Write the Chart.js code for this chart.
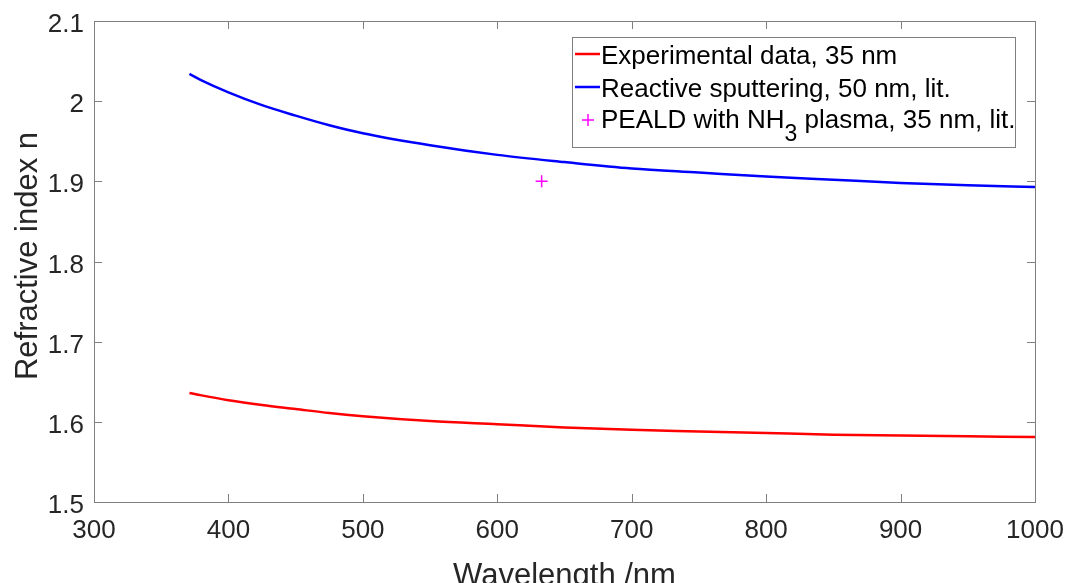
<!DOCTYPE html>
<html>
<head>
<meta charset="utf-8">
<script src="https://cdn.jsdelivr.net/npm/chart.js@4.4.1/dist/chart.umd.min.js"></script>
<style>
  html, body { margin: 0; padding: 0; background: #fff; }
  #wrap { width: 1076px; height: 583px; }
</style>
</head>
<body>
<div id="wrap"><canvas id="chart" width="1076" height="583"></canvas></div>
<script>
// values
const wavelengths = [371, 380, 400, 425, 450, 475, 500, 550, 600, 650, 700, 750, 800, 850, 900, 950, 1000];
const nExperimental = [1.636, 1.633, 1.627, 1.621, 1.616, 1.611, 1.607, 1.601, 1.597, 1.593, 1.590, 1.588, 1.586, 1.584, 1.583, 1.582, 1.581];
const nSputtering = [2.034, 2.026, 2.011, 1.995, 1.982, 1.970, 1.960, 1.945, 1.933, 1.924, 1.916, 1.911, 1.906, 1.902, 1.898, 1.895, 1.893];
const pealdWavelength = [633];
const pealdN = [1.9];

const xTicks = [300, 400, 500, 600, 700, 800, 900, 1000];
const yTicks = [1.5, 1.6, 1.7, 1.8, 1.9, 2.0, 2.1];
const yTickLabels = ['1.5', '1.6', '1.7', '1.8', '1.9', '2', '2.1'];

const FONT = '"Liberation Sans", Arial, Helvetica, sans-serif';
const TEXT = '#262626';
const AXIS = '#808080';

const toXY = (xs, ys) => xs.map((x, i) => ({ x: x, y: ys[i] }));

function text(ctx, str, x, y, align, rot) {
  ctx.save();
  ctx.translate(x, y);
  if (rot) ctx.rotate(rot);
  ctx.textAlign = align;
  ctx.fillText(str, 0, 0);
  const w = ctx.measureText(str).width;
  ctx.restore();
  return w;
}

// MATLAB-style box with inward ticks, labels, axis titles and legend
const matlabFrame = {
  id: 'matlabFrame',
  afterDraw(chart) {
    const { ctx, chartArea: a, scales } = chart;
    const tl = 8;
    ctx.save();
    ctx.strokeStyle = AXIS;
    ctx.lineWidth = 1;
    ctx.strokeRect(a.left + 0.5, a.top + 0.5, a.right - a.left, a.bottom - a.top);
    ctx.beginPath();
    xTicks.forEach(v => {
      const px = Math.round(scales.x.getPixelForValue(v)) + 0.5;
      ctx.moveTo(px, a.bottom); ctx.lineTo(px, a.bottom - tl);
      ctx.moveTo(px, a.top); ctx.lineTo(px, a.top + tl);
    });
    yTicks.forEach(v => {
      const py = Math.round(scales.y.getPixelForValue(v)) + 0.5;
      ctx.moveTo(a.left, py); ctx.lineTo(a.left + tl, py);
      ctx.moveTo(a.right, py); ctx.lineTo(a.right - tl, py);
    });
    ctx.stroke();

    // tick labels
    ctx.fillStyle = TEXT;
    ctx.font = '26px ' + FONT;
    ctx.textBaseline = 'alphabetic';
    xTicks.forEach(v => {
      text(ctx, String(v), scales.x.getPixelForValue(v), a.bottom + 36, 'center');
    });
    yTicks.forEach((v, i) => {
      text(ctx, yTickLabels[i], a.left - 10, scales.y.getPixelForValue(v) + 11, 'right');
    });

    // axis titles
    ctx.font = '31px ' + FONT;
    text(ctx, 'Wavelength /nm', (a.left + a.right) / 2, 585, 'center');
    text(ctx, 'Refractive index n', 37, 256, 'center', -Math.PI / 2);

    // legend
    const bx = 572, by = 37, bw = 443, bh = 110;
    ctx.fillStyle = '#fff';
    ctx.fillRect(bx, by, bw, bh);
    ctx.strokeStyle = AXIS;
    ctx.strokeRect(bx + 0.5, by + 0.5, bw, bh);
    ctx.font = '26px ' + FONT;
    ctx.fillStyle = '#000';
    const tx = 601;
    const rows = [
      { base: 64, mid: 54, color: '#ff0000', text: 'Experimental data, 35 nm' },
      { base: 97, mid: 87, color: '#0000ff', text: 'Reactive sputtering, 50 nm, lit.' }
    ];
    rows.forEach(r => {
      ctx.strokeStyle = r.color;
      ctx.lineWidth = 2.5;
      ctx.beginPath();
      ctx.moveTo(575, r.mid); ctx.lineTo(600, r.mid);
      ctx.stroke();
      text(ctx, r.text, tx, r.base, 'left');
    });
    // third row with subscript
    const base3 = 128;
    ctx.strokeStyle = '#ff00ff';
    ctx.lineWidth = 1.5;
    ctx.beginPath();
    ctx.moveTo(582, 120); ctx.lineTo(594, 120);
    ctx.moveTo(588, 114); ctx.lineTo(588, 126);
    ctx.stroke();
    let cx = tx;
    cx += text(ctx, 'PEALD with NH', cx, base3, 'left');
    ctx.font = '23px ' + FONT;
    cx += text(ctx, '3', cx, base3 + 13, 'left');
    ctx.font = '26px ' + FONT;
    text(ctx, ' plasma, 35 nm, lit.', cx, base3, 'left');
    ctx.restore();
  }
};

new Chart(document.getElementById('chart'), {
  type: 'line',
  data: {
    datasets: [
      {
        label: 'Experimental data, 35 nm',
        data: toXY(wavelengths, nExperimental),
        borderColor: '#ff0000',
        borderWidth: 2.5,
        pointRadius: 0,
        cubicInterpolationMode: 'monotone',
        fill: false
      },
      {
        label: 'Reactive sputtering, 50 nm, lit.',
        data: toXY(wavelengths, nSputtering),
        borderColor: '#0000ff',
        borderWidth: 2.5,
        pointRadius: 0,
        cubicInterpolationMode: 'monotone',
        fill: false
      },
      {
        label: 'PEALD with NH3 plasma, 35 nm, lit.',
        data: toXY(pealdWavelength, pealdN),
        showLine: false,
        pointStyle: 'cross',
        pointRadius: 6,
        pointBorderWidth: 1.5,
        pointBorderColor: '#ff00ff',
        borderColor: '#ff00ff',
        backgroundColor: '#ff00ff'
      }
    ]
  },
  options: {
    responsive: false,
    animation: false,
    devicePixelRatio: 1,
    layout: { padding: { left: 0, right: 41, top: 21, bottom: 0 } },
    plugins: {
      legend: { display: false },
      tooltip: { enabled: false }
    },
    scales: {
      x: {
        type: 'linear',
        min: 300,
        max: 1000,
        grid: { display: false, drawTicks: false },
        border: { display: false },
        ticks: { display: false },
        afterFit: s => { s.height = 81; }
      },
      y: {
        type: 'linear',
        min: 1.5,
        max: 2.1,
        grid: { display: false, drawTicks: false },
        border: { display: false },
        ticks: { display: false },
        afterFit: s => { s.width = 94; }
      }
    }
  },
  plugins: [matlabFrame]
});
</script>
</body>
</html>
